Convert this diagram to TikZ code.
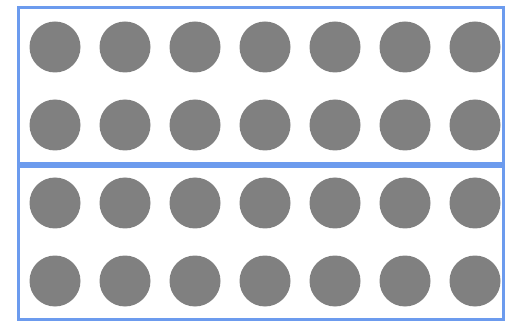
\documentclass[tikz,border=0pt]{standalone}
\usetikzlibrary{positioning}
\definecolor{boxblue}{RGB}{108,155,238}
\definecolor{dotgray}{RGB}{128,128,128}
\tikzset{
  dot/.style={circle,fill=dotgray,draw=none,minimum size=51pt,inner sep=0pt},
  panel/.style={draw=boxblue,line width=3pt}
}
\begin{document}
\begin{tikzpicture}[x=1pt,y=-1pt]
\useasboundingbox (0,0) rectangle (506,323);
\draw[panel] (18,7.5) rectangle (503.5,164);
\draw[panel] (18,167) rectangle (503.5,319.5);
\foreach \r/\y in {1/47,2/125,3/203,4/281}{
  \foreach \c in {1,...,7}{
    \node[dot] (d\r\c) at ({55+70*(\c-1)},\y) {};
  }
}
\end{tikzpicture}
\end{document}
